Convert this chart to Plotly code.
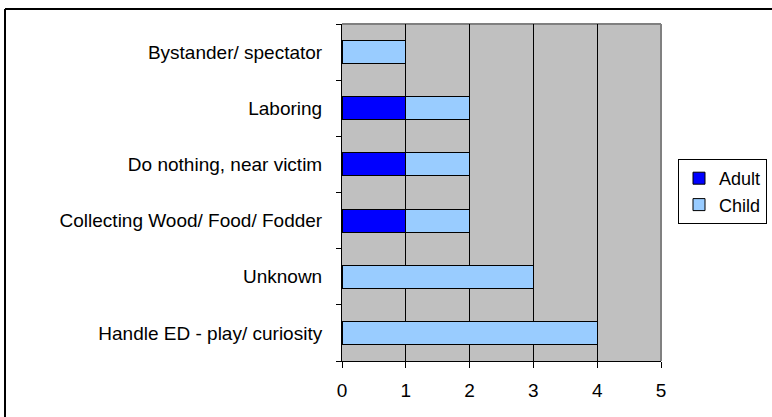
"""
Activity at time of incident, by victim age group (stacked horizontal bars).
"""

import plotly.graph_objects as go

# categories bottom -> top, as drawn
activities = [
    "Handle ED - play/ curiosity",
    "Unknown",
    "Collecting Wood/ Food/ Fodder",
    "Do nothing, near victim",
    "Laboring",
    "Bystander/ spectator",
]
adult_counts = [0, 0, 1, 1, 1, 0]
child_counts = [4, 3, 1, 1, 1, 1]
x_ticks = [0, 1, 2, 3, 4, 5]

FONT = "Liberation Sans, Arial, sans-serif"

# plot area in pixels (772x417 page)
W, H = 772, 417
PX0, PX1 = 342, 661
PY0, PY1 = 24, 361


def px_x(px):
    return (px - PX0) / (PX1 - PX0)


def px_y(py):
    return (PY1 - py) / (PY1 - PY0)


fig = go.Figure()

fig.add_trace(go.Bar(
    y=activities,
    x=adult_counts,
    name="Adult",
    orientation="h",
    marker=dict(color="#0000FF", line=dict(color="#000000", width=1)),
))
fig.add_trace(go.Bar(
    y=activities,
    x=child_counts,
    name="Child",
    orientation="h",
    marker=dict(color="#99CCFF", line=dict(color="#000000", width=1)),
))

# outer chart frame (cut off at right and bottom in the original)
fig.add_shape(type="line", xref="paper", yref="paper",
              x0=px_x(5), x1=px_x(W + 5), y0=px_y(9), y1=px_y(9),
              line=dict(color="black", width=2))
fig.add_shape(type="line", xref="paper", yref="paper",
              x0=px_x(5), x1=px_x(5), y0=px_y(9), y1=px_y(H + 5),
              line=dict(color="black", width=2))

# grey border on top and right of the plot area
fig.add_shape(type="line", xref="paper", yref="paper",
              x0=0, x1=1, y0=1, y1=1, line=dict(color="#808080", width=2),
              layer="below")
fig.add_shape(type="line", xref="paper", yref="paper",
              x0=1, x1=1, y0=0, y1=1, line=dict(color="#808080", width=2),
              layer="below")

fig.update_layout(
    width=W,
    height=H,
    margin=dict(l=PX0, r=W - PX1, t=PY0, b=H - PY1, pad=0, autoexpand=False),
    barmode="stack",
    bargap=0.59,
    paper_bgcolor="white",
    plot_bgcolor="#C0C0C0",
    font=dict(family=FONT, size=19, color="black"),
    legend=dict(
        x=px_x(678), y=px_y(159), xanchor="left", yanchor="top",
        traceorder="normal",
        bordercolor="black", borderwidth=1, bgcolor="white",
        font=dict(size=18),
        itemwidth=30,
        tracegroupgap=0,
    ),
    showlegend=True,
)

fig.update_xaxes(
    range=[0, 5],
    tickvals=x_ticks,
    ticktext=[str(v) for v in x_ticks],
    showgrid=True, gridcolor="black", gridwidth=1,
    showline=True, linecolor="black", linewidth=1,
    ticks="outside", ticklen=6, tickcolor="black",
    ticklabelstandoff=6,
    zeroline=False,
    fixedrange=True,
)
fig.update_yaxes(
    type="category",
    categoryorder="array", categoryarray=activities,
    showgrid=False,
    showline=True, linecolor="black", linewidth=1,
    ticks="outside", ticklen=5, tickcolor="black",
    tickson="boundaries",
    ticklabelstandoff=15,
    fixedrange=True,
)

# the page is photographed at the window's corner, so drop the body margin
fig.write_html("out.html", config={"displayModeBar": False},
               post_script="document.body.style.margin='0';")
